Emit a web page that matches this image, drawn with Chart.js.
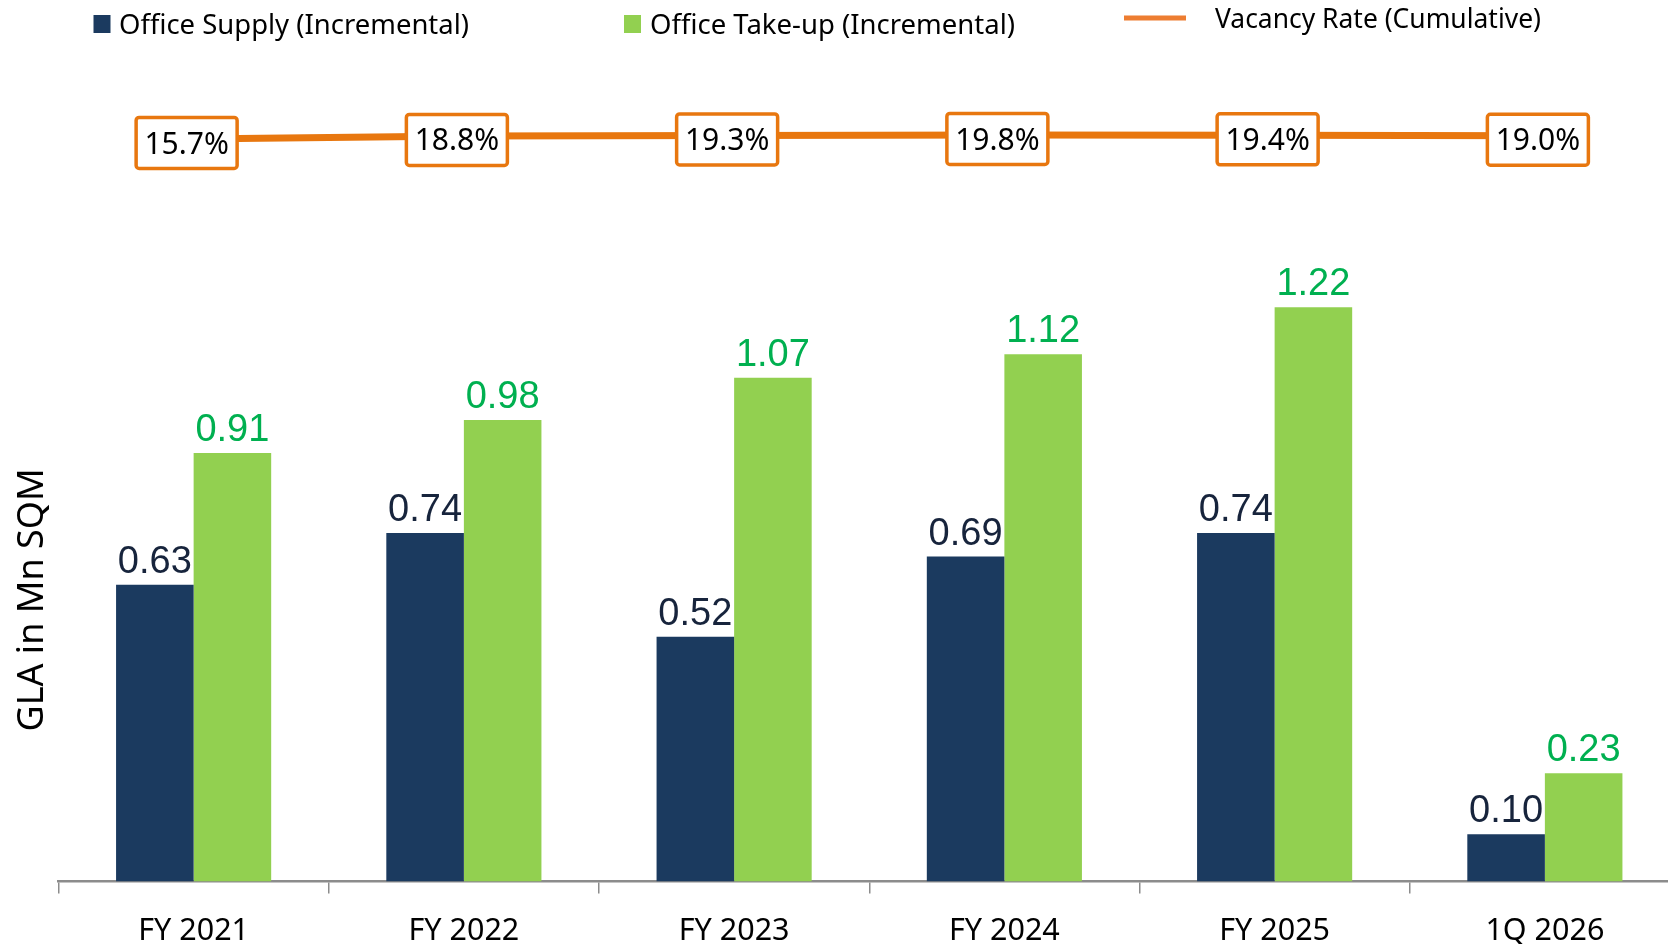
<!DOCTYPE html>
<html>
<head>
<meta charset="utf-8">
<script src="https://cdn.jsdelivr.net/npm/chart.js@4"></script>
<style>
html,body{margin:0;padding:0;background:#fff;overflow:hidden;}
#wrap{position:relative;width:1680px;height:970px;}
</style>
</head>
<body>
<div id="wrap"><canvas id="c"></canvas></div>
<script>
const categories = ['FY 2021','FY 2022','FY 2023','FY 2024','FY 2025','1Q 2026'];
const officeSupply = [0.63, 0.74, 0.52, 0.69, 0.74, 0.10];
const officeTakeup = [0.91, 0.98, 1.07, 1.12, 1.22, 0.23];
const vacancyRate = [15.7, 18.8, 19.3, 19.8, 19.4, 19.0];
const seriesNames = ['Office Supply (Incremental)', 'Office Take-up (Incremental)', 'Vacancy Rate (Cumulative)'];
const yTitle = 'GLA in Mn SQM';

const NAVY = '#1b3a5f', GREEN = '#92d050', ORANGE = '#e8770f', LEG_ORANGE = '#ed7d31';

const legendPlugin = {
  id: 'customLegend',
  afterDraw(chart) {
    const ctx = chart.ctx;
    ctx.save();
    ctx.font = '27.5px "Noto Sans"';
    ctx.textBaseline = 'alphabetic';
    ctx.textAlign = 'left';
    ctx.fillStyle = NAVY; ctx.fillRect(93.5, 15, 17, 18);
    ctx.fillStyle = '#000'; ctx.fillText(seriesNames[0], 119, 34, 350);
    ctx.fillStyle = GREEN; ctx.fillRect(624, 15, 17, 18);
    ctx.fillStyle = '#000'; ctx.fillText(seriesNames[1], 650, 34, 366);
    ctx.fillStyle = LEG_ORANGE; ctx.fillRect(1124, 15.5, 62, 5);
    ctx.fillStyle = '#000'; ctx.fillText(seriesNames[2], 1215, 28, 326);
    // y axis title
    ctx.translate(33, 600);
    ctx.rotate(-Math.PI / 2);
    ctx.font = '36px "Noto Sans"';
    ctx.textAlign = 'center';
    ctx.textBaseline = 'middle';
    ctx.fillText(yTitle, 0, 0);
    ctx.restore();
  }
};

const labelPlugin = {
  id: 'valueLabels',
  afterDatasetsDraw(chart) {
    const ctx = chart.ctx;
    ctx.save();
    [0, 1].forEach(di => {
      const meta = chart.getDatasetMeta(di);
      const ds = chart.data.datasets[di];
      ctx.font = '38px "Liberation Sans", Arial, sans-serif';
      ctx.fillStyle = di === 0 ? '#17243c' : '#00b050';
      ctx.textAlign = 'center';
      ctx.textBaseline = 'alphabetic';
      meta.data.forEach((el, i) => {
        ctx.fillText(ds.data[i].toFixed(2), el.x, el.y - 12);
      });
    });
    const lm = chart.getDatasetMeta(2);
    const lds = chart.data.datasets[2];
    lm.data.forEach((el, i) => {
      const w = 101, h = 51;
      const cx = el.x - 7, cy = el.y + 4;
      ctx.beginPath();
      if (ctx.roundRect) ctx.roundRect(cx - w/2, cy - h/2, w, h, 3); else ctx.rect(cx - w/2, cy - h/2, w, h);
      ctx.fillStyle = '#fff';
      ctx.fill();
      ctx.lineWidth = 3.5;
      ctx.strokeStyle = ORANGE;
      ctx.stroke();
      ctx.font = '30px "Noto Sans"';
      ctx.fillStyle = '#000';
      ctx.textAlign = 'center';
      ctx.textBaseline = 'middle';
      ctx.fillText(lds.data[i].toFixed(1) + '%', cx, cy + 2);
    });
    ctx.restore();
  }
};

new Chart(document.getElementById('c'), {
  data: {
    labels: categories,
    datasets: [
      { type: 'bar', label: seriesNames[0], data: officeSupply, backgroundColor: NAVY, yAxisID: 'y', order: 2,
        categoryPercentage: 0.574, barPercentage: 1.0 },
      { type: 'bar', label: seriesNames[1], data: officeTakeup, backgroundColor: GREEN, yAxisID: 'y', order: 2,
        categoryPercentage: 0.574, barPercentage: 1.0 },
      { type: 'line', label: seriesNames[2], data: vacancyRate, borderColor: ORANGE, borderWidth: 7,
        pointRadius: 0, tension: 0, yAxisID: 'y2', order: 1, fill: false }
    ]
  },
  options: {
    responsive: true,
    maintainAspectRatio: false,
    animation: false,
    layout: { padding: { left: 58.5, right: 0, top: 0, bottom: 0 } },
    plugins: { legend: { display: false }, tooltip: { enabled: false } },
    scales: {
      x: {
        type: 'category',
        offset: true,
        grid: { display: true, drawOnChartArea: false, offset: true, tickLength: 12, color: '#8c8c8c', lineWidth: 1.5 },
        border: { display: true, color: '#8c8c8c', width: 2.5 },
        ticks: { color: '#000', font: { family: 'Noto Sans', size: 30.5 }, padding: 20, maxRotation: 0, autoSkip: false }
      },
      y: {
        type: 'linear',
        min: 0, max: 1.8725,
        display: false
      },
      y2: {
        type: 'linear',
        display: false,
        min: -745, max: 158.1
      }
    }
  },
  plugins: [legendPlugin, labelPlugin]
});
</script>
</body>
</html>
